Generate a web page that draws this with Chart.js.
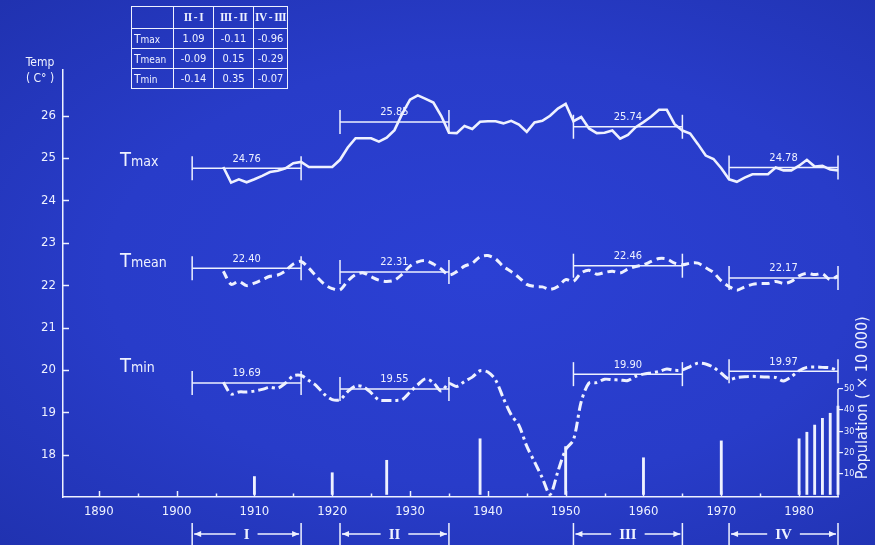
<!DOCTYPE html>
<html>
<head>
<meta charset="utf-8">
<script src="https://cdn.jsdelivr.net/npm/chart.js@4/dist/chart.umd.min.js"></script>
<style>
  html, body { margin: 0; padding: 0; }
  body {
    width: 875px; height: 545px; overflow: hidden; position: relative;
    background: radial-gradient(ellipse at 55% 50%, #2b40d4 0%, #283cc9 55%, #2032b0 100%);
    font-family: "DejaVu Sans Condensed", "DejaVu Sans", sans-serif;
    color: #eef1ff;
  }
  #plot { position: absolute; left: 0; top: 0; }
  table.diff {
    position: absolute; left: 131px; top: 6px;
    border-collapse: collapse; table-layout: fixed;
  }
  table.diff td {
    border: 1.3px solid #eef1ff; padding: 0; text-align: center;
    font-size: 11px; line-height: 1; white-space: nowrap; overflow: hidden;
  }
  table.diff tr.head td { height: 21px; font-family: "Liberation Serif", "DejaVu Serif", serif; font-size: 11.5px; font-weight: bold; letter-spacing: -0.6px; }
  table.diff tr.body td { height: 19px; }
  table.diff td.rowhead { text-align: left; padding-left: 2px; font-size: 12px; }
  table.diff td.rowhead small { font-size: 10px; }
  .series {
    position: absolute; font-size: 20px; line-height: 1; white-space: nowrap;
  }
  .series small { font-size: 14px; }
  .ytitle { position: absolute; font-size: 12px; line-height: 1; text-align: center; width: 44px; }
</style>
</head>
<body>
<canvas id="plot" width="875" height="545"></canvas>
<table class="diff" id="diffTable"></table>
<div class="series" style="left:120px; top:149px;">T<small>max</small></div>
<div class="series" style="left:120px; top:250px;">T<small>mean</small></div>
<div class="series" style="left:120px; top:355px;">T<small>min</small></div>
<div class="ytitle" style="left:18px; top:56px;">Temp</div>
<div class="ytitle" style="left:18px; top:72px;">( C° )</div>
<script>
// Annual series, 1906 - 1985
const years = [
  1906, 1907, 1908, 1909, 1910, 1911, 1912, 1913, 1914, 1915,
  1916, 1917, 1918, 1919, 1920, 1921, 1922, 1923, 1924, 1925,
  1926, 1927, 1928, 1929, 1930, 1931, 1932, 1933, 1934, 1935,
  1936, 1937, 1938, 1939, 1940, 1941, 1942, 1943, 1944, 1945,
  1946, 1947, 1948, 1949, 1950, 1951, 1952, 1953, 1954, 1955,
  1956, 1957, 1958, 1959, 1960, 1961, 1962, 1963, 1964, 1965,
  1966, 1967, 1968, 1969, 1970, 1971, 1972, 1973, 1974, 1975,
  1976, 1977, 1978, 1979, 1980, 1981, 1982, 1983, 1984, 1985
];
const tMax = [
  24.79, 24.42, 24.50, 24.43, 24.50, 24.58, 24.67, 24.70, 24.76, 24.88,
  24.91, 24.79, 24.79, 24.79, 24.79, 24.96, 25.25, 25.47, 25.47, 25.47,
  25.39, 25.48, 25.66, 26.05, 26.38, 26.48, 26.40, 26.31, 26.00, 25.60,
  25.59, 25.76, 25.69, 25.86, 25.87, 25.87, 25.82, 25.88, 25.79, 25.62,
  25.84, 25.88, 26.00, 26.17, 26.28, 25.87, 25.97, 25.70, 25.59, 25.60,
  25.65, 25.46, 25.55, 25.73, 25.85, 25.98, 26.14, 26.14, 25.80, 25.65,
  25.58, 25.33, 25.06, 24.98, 24.76, 24.50, 24.44, 24.54, 24.62, 24.62,
  24.62, 24.78, 24.71, 24.71, 24.82, 24.96, 24.80, 24.82, 24.73, 24.71
];
const tMean = [
  22.33, 22.02, 22.09, 21.99, 22.05, 22.13, 22.21, 22.24, 22.34, 22.50,
  22.56, 22.40, 22.20, 22.02, 21.92, 21.89, 22.10, 22.25, 22.29, 22.20,
  22.12, 22.09, 22.12, 22.26, 22.45, 22.55, 22.58, 22.50, 22.38, 22.24,
  22.32, 22.45, 22.52, 22.67, 22.70, 22.62, 22.44, 22.32, 22.18, 22.02,
  21.97, 21.96, 21.90, 21.97, 22.13, 22.09, 22.29, 22.35, 22.26, 22.30,
  22.33, 22.29, 22.38, 22.44, 22.48, 22.56, 22.63, 22.62, 22.52, 22.48,
  22.52, 22.52, 22.41, 22.30, 22.10, 21.97, 21.88, 21.96, 22.02, 22.04,
  22.04, 22.09, 22.04, 22.09, 22.22, 22.28, 22.25, 22.27, 22.13, 22.22
];
const tMin = [
  19.71, 19.43, 19.48, 19.48, 19.50, 19.54, 19.59, 19.57, 19.69, 19.86,
  19.87, 19.75, 19.62, 19.42, 19.30, 19.30, 19.49, 19.62, 19.60, 19.46,
  19.29, 19.28, 19.28, 19.30, 19.48, 19.65, 19.79, 19.70, 19.50, 19.68,
  19.61, 19.73, 19.83, 19.98, 19.95, 19.76, 19.33, 18.94, 18.69, 18.20,
  17.83, 17.45, 17.06, 17.60, 18.12, 18.35, 19.25, 19.69, 19.70, 19.78,
  19.77, 19.76, 19.75, 19.85, 19.90, 19.93, 19.96, 20.02, 19.99, 20.00,
  20.08, 20.16, 20.14, 20.06, 19.92, 19.78, 19.82, 19.84, 19.85, 19.84,
  19.83, 19.82, 19.74, 19.84, 19.98, 20.06, 20.07, 20.06, 20.05, 19.98
];

// Averaging periods and their means
const periodNames = ['I', 'II', 'III', 'IV'];
const periodStart = [1902, 1921, 1951, 1971];
const periodEnd   = [1916, 1935, 1965, 1985];
const meanMax  = [24.76, 25.85, 25.74, 24.78];
const meanMean = [22.40, 22.31, 22.46, 22.17];
const meanMin  = [19.69, 19.55, 19.90, 19.97];

// Differences between successive periods
const diffCols = ['II - I', 'III - II', 'IV - III'];
const diffRows = ['max', 'mean', 'min'];
const diffMax  = [1.09, -0.11, -0.96];
const diffMean = [-0.09, 0.15, -0.29];
const diffMin  = [-0.14, 0.35, -0.07];

// Population (x 10 000)
const popYears  = [1910, 1920, 1927, 1939, 1950, 1960, 1970, 1980, 1981, 1982, 1983, 1984, 1985];
const popValues = [8.5, 10.3, 16.2, 26.4, 22.7, 17.4, 25.4, 26.4, 29.5, 32.9, 36.1, 38.5, 41.9];

// Tick labels
const tempTicks = [18, 19, 20, 21, 22, 23, 24, 25, 26];
const yearTicks = [1890, 1900, 1910, 1920, 1930, 1940, 1950, 1960, 1970, 1980];
const popTicks  = [10, 20, 30, 40, 50];

const INK = '#eef1ff';
const FONT = '"DejaVu Sans Condensed", "DejaVu Sans", sans-serif';

// ---- difference table ----
(function buildTable() {
  const t = document.getElementById('diffTable');
  const colW = [42, 40, 40, 34];
  let html = '<colgroup>' + colW.map(w => `<col style="width:${w}px">`).join('') + '</colgroup>';
  html += '<tr class="head"><td></td>' + diffCols.map(c => `<td>${c}</td>`).join('') + '</tr>';
  const rowsData = [diffMax, diffMean, diffMin];
  const fmt = v => v.toFixed(2);
  diffRows.forEach((r, i) => {
    html += `<tr class="body"><td class="rowhead">T<small>${r}</small></td>` +
      rowsData[i].map(v => `<td>${fmt(v)}</td>`).join('') + '</tr>';
  });
  t.innerHTML = html;
})();

const toPoints = (xs, ys) => xs.map((x, i) => ({ x: x, y: ys[i] }));

// Mean-level brackets: a horizontal segment with vertical end caps
function brackets(means) {
  return means.map((m, i) => ({
    type: 'line',
    data: [{ x: periodStart[i], y: m }, { x: periodEnd[i], y: m }],
    borderColor: INK, borderWidth: 1.5,
    pointStyle: 'line', rotation: 90, pointRadius: 12,
    pointBorderColor: INK, pointBorderWidth: 1.5,
    pointHoverRadius: 12,
    clip: false, yAxisID: 'y', order: 1,
    bracketLabel: m.toFixed(2)
  }));
}

const decor = {
  id: 'decor',
  afterDraw(chart) {
    const ctx = chart.ctx;
    const xs = chart.scales.x, ys = chart.scales.y, ps = chart.scales.pop;
    const area = chart.chartArea;
    ctx.save();
    ctx.strokeStyle = INK; ctx.fillStyle = INK; ctx.lineWidth = 1.5;

    // inward ticks on temperature axis
    tempTicks.forEach(v => {
      const py = Math.round(ys.getPixelForValue(v)) + 0.5;
      ctx.beginPath(); ctx.moveTo(area.left, py); ctx.lineTo(area.left + 6, py); ctx.stroke();
    });
    // upward ticks on year axis (decades and half-decades)
    yearTicks.forEach(v => {
      [[v, 6], [v + 5, 3.5]].forEach(([yr, len]) => {
        if (yr >= xs.max) return;
        const px = Math.round(xs.getPixelForValue(yr)) + 0.5;
        ctx.beginPath(); ctx.moveTo(px, area.bottom); ctx.lineTo(px, area.bottom - len); ctx.stroke();
      });
    });
    // population axis spine up to its top tick
    ctx.beginPath();
    ctx.moveTo(area.right, area.bottom);
    ctx.lineTo(area.right, ps.getPixelForValue(popTicks[popTicks.length - 1]));
    ctx.stroke();

    // bracket value labels
    ctx.font = '11px ' + FONT;
    ctx.textAlign = 'center'; ctx.textBaseline = 'bottom';
    chart.data.datasets.forEach((ds, i) => {
      if (!ds.bracketLabel) return;
      const pts = chart.getDatasetMeta(i).data;
      const mx = (pts[0].x + pts[1].x) / 2;
      ctx.fillText(ds.bracketLabel, mx, pts[0].y - 4);
    });

    // period spans under the year axis
    const yTop = area.bottom + 26, yBot = chart.height, yMid = area.bottom + 37;
    ctx.font = 'bold 15px "Liberation Serif", "DejaVu Serif", serif';
    ctx.textBaseline = 'middle';
    periodNames.forEach((name, i) => {
      const a = xs.getPixelForValue(periodStart[i]);
      const b = xs.getPixelForValue(periodEnd[i]);
      const c = (a + b) / 2;
      const half = ctx.measureText(name).width / 2 + 8;
      ctx.lineWidth = 1.5;
      ctx.beginPath();
      ctx.moveTo(a, yTop); ctx.lineTo(a, yBot);
      ctx.moveTo(b, yTop); ctx.lineTo(b, yBot);
      ctx.moveTo(a + 2, yMid); ctx.lineTo(c - half, yMid);
      ctx.moveTo(c + half, yMid); ctx.lineTo(b - 2, yMid);
      ctx.stroke();
      ctx.beginPath();
      ctx.moveTo(a + 2, yMid); ctx.lineTo(a + 9, yMid - 3); ctx.lineTo(a + 9, yMid + 3); ctx.closePath();
      ctx.moveTo(b - 2, yMid); ctx.lineTo(b - 9, yMid - 3); ctx.lineTo(b - 9, yMid + 3); ctx.closePath();
      ctx.fill();
      ctx.fillText(name, c, yMid + 1);
    });

    // population axis title
    ctx.save();
    ctx.translate(chart.width - 12, (ps.getPixelForValue(0) + ps.getPixelForValue(popTicks[popTicks.length - 1])) / 2 - 44);
    ctx.rotate(-Math.PI / 2);
    ctx.font = '16px ' + FONT;
    ctx.textAlign = 'center'; ctx.textBaseline = 'middle';
    ctx.fillText('Population ( \u00d7 10 000)', 0, 0);
    ctx.restore();

    ctx.restore();
  }
};

new Chart(document.getElementById('plot'), {
  type: 'line',
  data: {
    datasets: [
      {
        label: 'Tmax', data: toPoints(years, tMax),
        borderColor: INK, borderWidth: 2.6, pointRadius: 0, tension: 0, yAxisID: 'y', order: 0
      },
      {
        label: 'Tmean', data: toPoints(years, tMean),
        borderColor: INK, borderWidth: 3, borderDash: [8, 5], pointRadius: 0, tension: 0.3, yAxisID: 'y', order: 0
      },
      {
        label: 'Tmin', data: toPoints(years, tMin),
        borderColor: INK, borderWidth: 3, borderDash: [10, 4, 3, 4], pointRadius: 0, tension: 0.3, yAxisID: 'y', order: 0
      },
      ...brackets(meanMax),
      ...brackets(meanMean),
      ...brackets(meanMin),
      {
        type: 'bar', label: 'Population', data: toPoints(popYears, popValues),
        backgroundColor: INK, borderWidth: 0, barThickness: 2.2,
        yAxisID: 'pop', clip: false, order: 2
      }
    ]
  },
  options: {
    responsive: false, animation: false, devicePixelRatio: 1,
    layout: { padding: { top: 70, left: 0, right: 0, bottom: 0 } },
    plugins: { legend: { display: false }, tooltip: { enabled: false }, title: { display: false } },
    events: [],
    scales: {
      x: {
        type: 'linear', min: 1885.4, max: 1985, offset: false,
        afterFit: s => { s.height = 48; },
        afterBuildTicks: s => { s.ticks = yearTicks.map(v => ({ value: v })); },
        grid: { display: false, drawTicks: false },
        border: { display: true, color: INK, width: 1.5 },
        ticks: { color: INK, font: { family: FONT, size: 13 }, padding: 7, maxRotation: 0, autoSkip: false, callback: v => String(v) }
      },
      y: {
        type: 'linear', position: 'left', min: 17, max: 27.08,
        afterFit: s => { s.width = 63; },
        afterBuildTicks: s => { s.ticks = tempTicks.map(v => ({ value: v })); },
        grid: { display: false, drawTicks: false },
        border: { display: true, color: INK, width: 1.5 },
        ticks: { color: INK, font: { family: FONT, size: 13 }, padding: 7, autoSkip: false }
      },
      pop: {
        type: 'linear', position: 'right', min: -1.2, max: 201.2,
        afterFit: s => { s.width = 37; },
        afterBuildTicks: s => { s.ticks = popTicks.map(v => ({ value: v })); },
        grid: { drawOnChartArea: false, drawTicks: true, tickLength: 5, color: INK, lineWidth: 1.2 },
        border: { display: false },
        ticks: { color: INK, font: { family: FONT, size: 9 }, padding: 1, autoSkip: false }
      }
    }
  },
  plugins: [decor]
});
</script>
</body>
</html>
